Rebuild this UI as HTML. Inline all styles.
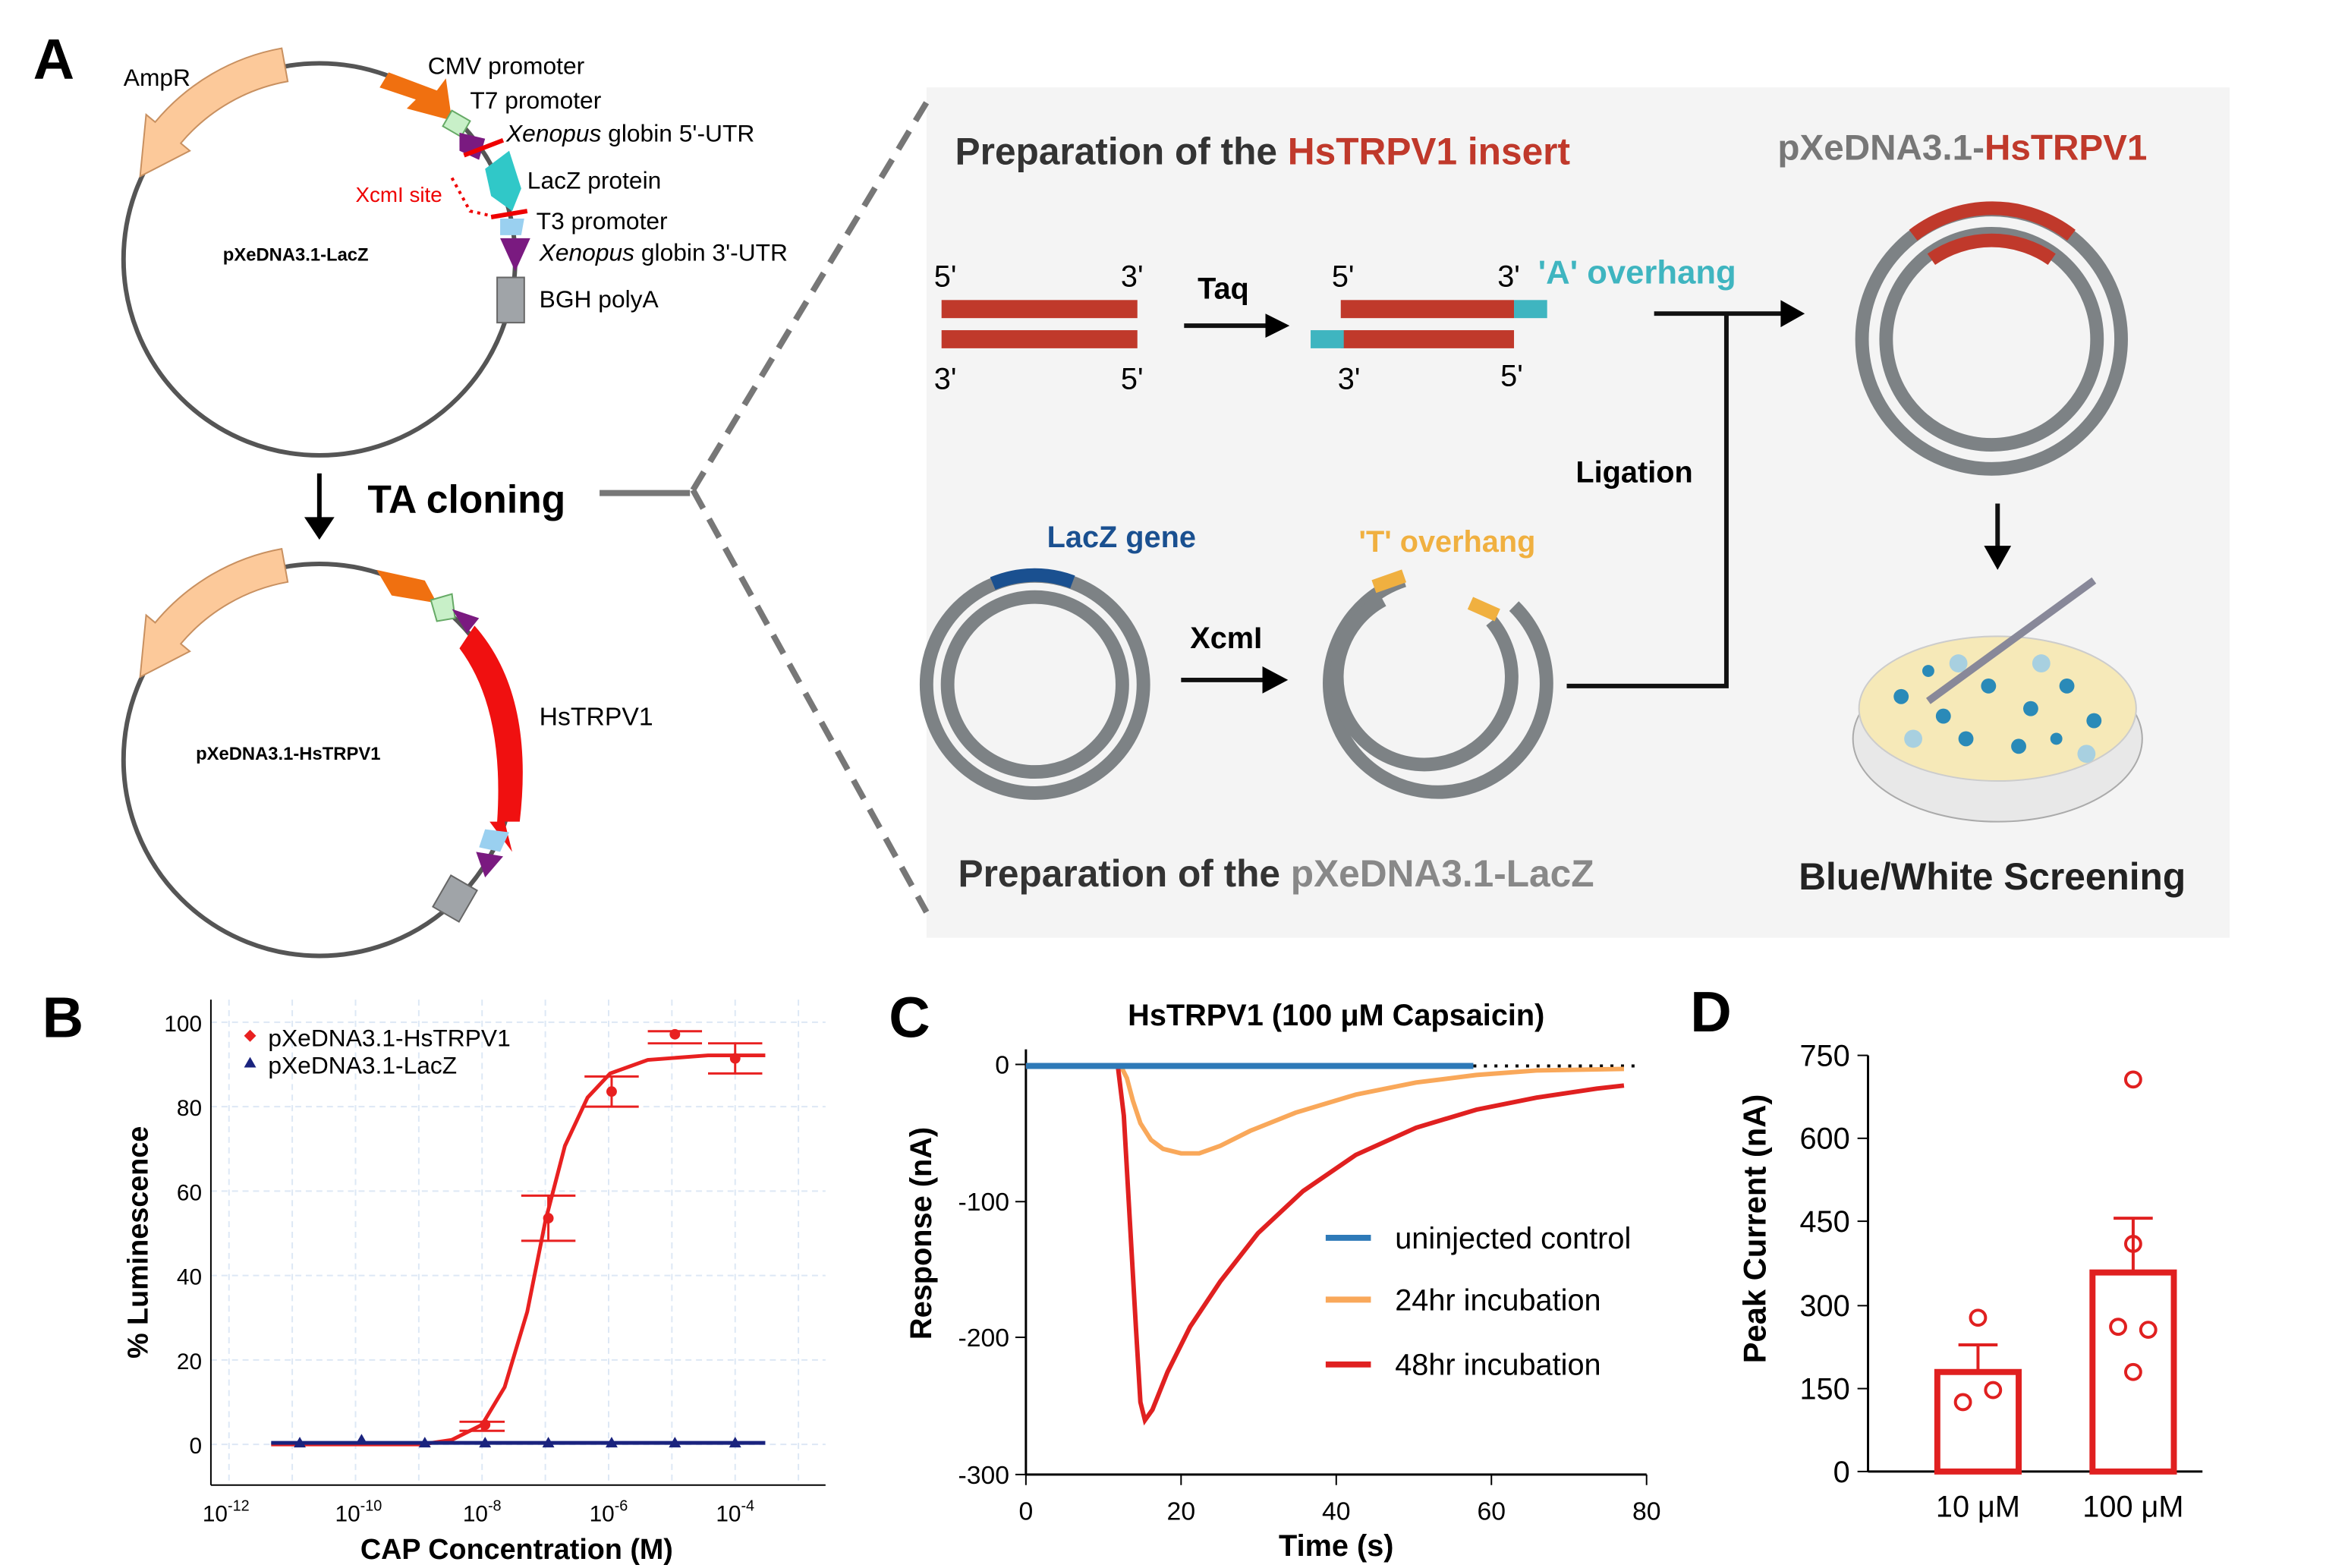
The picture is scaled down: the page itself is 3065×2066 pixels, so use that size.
<!DOCTYPE html>
<html><head><meta charset="utf-8"><style>
html,body{margin:0;padding:0;background:#fff}
svg{display:block}
text{font-family:"Liberation Sans",Arial,sans-serif}
</style></head><body>
<svg width="3065" height="2066" viewBox="0 0 1544 1040" preserveAspectRatio="none" xmlns="http://www.w3.org/2000/svg">
<!-- Panel A -->
<text x="22" y="52" font-size="38" font-weight="bold">A</text>
<circle cx="212" cy="172" r="130" fill="none" stroke="#555" stroke-width="3"/>
<path d="M187,32 A142,142 0 0 0 103,81 L97,76 L93,117 L126,100 L120,95 A120,120 0 0 1 191,54 Z" fill="#fcc99a" stroke="#c89060"/>
<path d="M258,48 L290,60 L296,52 L300,80 L270,72 L276,66 L252,58 Z" fill="#f07010"/>
<rect x="296" y="76" width="14" height="12" fill="#c8f0c8" stroke="#6a6" transform="rotate(30 303 82)"/>
<path d="M305,88 L322,92 L318,106 L305,100 Z" fill="#7a1a80"/>
<line x1="308" y1="103" x2="334" y2="93" stroke="#e00" stroke-width="3"/>
<path d="M322,112 L338,100 L346,125 L340,140 L326,130 Z" fill="#30c8c8"/>
<line x1="326" y1="144" x2="350" y2="140" stroke="#e00" stroke-width="3"/>
<path d="M332,145 L348,145 L346,156 L332,156 Z" fill="#9ad0f0"/>
<path d="M332,158 L352,158 L342,180 Z" fill="#7a1a80"/>
<rect x="330" y="184" width="18" height="30" fill="#a0a4a8" stroke="#666"/>
<path d="M300,118 L312,140 L330,144" fill="none" stroke="#e00" stroke-width="2" stroke-dasharray="2,3"/>
<text x="82" y="57" font-size="16">AmpR</text>
<text x="284" y="49" font-size="16">CMV promoter</text>
<text x="312" y="72" font-size="16">T7 promoter</text>
<text x="336" y="94" font-size="16"><tspan font-style="italic">Xenopus</tspan> globin 5'-UTR</text>
<text x="236" y="134" font-size="14" fill="#e00">XcmI site</text>
<text x="350" y="125" font-size="16">LacZ protein</text>
<text x="356" y="152" font-size="16">T3 promoter</text>
<text x="358" y="173" font-size="16"><tspan font-style="italic">Xenopus</tspan> globin 3'-UTR</text>
<text x="358" y="204" font-size="16">BGH polyA</text>
<text x="148" y="173" font-size="12" font-weight="bold">pXeDNA3.1-LacZ</text>
<line x1="212" y1="314" x2="212" y2="345" stroke="#000" stroke-width="3"/>
<path d="M202,343 L222,343 L212,358 Z"/>
<text x="244" y="340" font-size="26" font-weight="bold">TA cloning</text>
<line x1="398" y1="327" x2="458" y2="327" stroke="#777" stroke-width="4"/>
<circle cx="212" cy="504" r="130" fill="none" stroke="#555" stroke-width="3"/>
<path d="M187,364 A142,142 0 0 0 103,413 L97,408 L93,449 L126,432 L120,427 A120,120 0 0 1 191,386 Z" fill="#fcc99a" stroke="#c89060"/>
<path d="M250,378 L282,385 L290,400 L260,395 Z" fill="#f07010"/>
<path d="M286,398 L300,394 L302,410 L290,412 Z" fill="#c8f0c8" stroke="#6a6"/>
<path d="M300,404 L318,410 L310,420 Z" fill="#7a1a80"/>
<path d="M315,415 Q355,460 345,545 L335,545 L340,565 L325,545 L330,545 Q335,470 305,430 Z" fill="#f01010"/>
<path d="M322,550 L338,552 L332,565 L318,562 Z" fill="#9ad0f0"/>
<path d="M316,565 L334,568 L322,582 Z" fill="#7a1a80"/>
<rect x="292" y="584" width="20" height="24" fill="#a0a4a8" stroke="#666" transform="rotate(30 302 596)"/>
<text x="358" y="481" font-size="17">HsTRPV1</text>
<text x="130" y="504" font-size="12" font-weight="bold">pXeDNA3.1-HsTRPV1</text>
<!-- gray panel -->
<rect x="615" y="58" width="865" height="564" fill="#f4f4f4"/>
<line x1="460" y1="325" x2="615" y2="68" stroke="#777" stroke-width="4" stroke-dasharray="14,8"/>
<line x1="460" y1="325" x2="615" y2="605" stroke="#777" stroke-width="4" stroke-dasharray="14,8"/>
<text x="634" y="109" font-size="25" font-weight="bold" fill="#333">Preparation of the <tspan fill="#c0392b">HsTRPV1 insert</tspan></text>
<text x="1180" y="106" font-size="24" font-weight="bold" fill="#777">pXeDNA3.1-<tspan fill="#c0392b">HsTRPV1</tspan></text>
<rect x="625" y="199" width="130" height="12" fill="#c0392b"/>
<rect x="625" y="219" width="130" height="12" fill="#c0392b"/>
<text x="620" y="190" font-size="20">5'</text><text x="744" y="190" font-size="20">3'</text>
<text x="620" y="258" font-size="20">3'</text><text x="744" y="258" font-size="20">5'</text>
<text x="795" y="198" font-size="20" font-weight="bold">Taq</text>
<line x1="786" y1="216" x2="842" y2="216" stroke="#111" stroke-width="3"/><path d="M840,208 L856,216 L840,224 Z"/>
<rect x="890" y="199" width="115" height="12" fill="#c0392b"/><rect x="1005" y="199" width="22" height="12" fill="#3fb5c0"/>
<rect x="890" y="219" width="115" height="12" fill="#c0392b"/><rect x="870" y="219" width="22" height="12" fill="#3fb5c0"/>
<text x="884" y="190" font-size="20">5'</text><text x="994" y="190" font-size="20">3'</text>
<text x="1021" y="188" font-size="22" font-weight="bold" fill="#3fb5c0">'A' overhang</text>
<text x="888" y="258" font-size="20">3'</text><text x="996" y="256" font-size="20">5'</text>
<line x1="1098" y1="208" x2="1185" y2="208" stroke="#111" stroke-width="3"/><path d="M1182,199 L1198,208 L1182,217 Z"/>
<polyline points="1040,455 1146,455 1146,208" fill="none" stroke="#111" stroke-width="3"/>
<text x="1046" y="320" font-size="20" font-weight="bold">Ligation</text>
<circle cx="1322" cy="225" r="86" fill="none" stroke="#7d8285" stroke-width="9"/>
<circle cx="1322" cy="225" r="70" fill="none" stroke="#7d8285" stroke-width="9"/>
<path d="M1270,156 A86,86 0 0 1 1375,156" fill="none" stroke="#c0392b" stroke-width="9"/>
<path d="M1282,172 A70,70 0 0 1 1362,172" fill="none" stroke="#c0392b" stroke-width="9"/>
<line x1="1326" y1="334" x2="1326" y2="365" stroke="#111" stroke-width="3"/><path d="M1317,362 L1335,362 L1326,378 Z"/>
<ellipse cx="1326" cy="490" rx="96" ry="55" fill="#e8e8e8" stroke="#aaa"/>
<ellipse cx="1326" cy="470" rx="92" ry="48" fill="#f6e9b8" stroke="#ccc"/>
<g fill="#2a8ab8"><circle cx="1262" cy="462" r="5"/><circle cx="1290" cy="475" r="5"/><circle cx="1320" cy="455" r="5"/><circle cx="1348" cy="470" r="5"/><circle cx="1372" cy="455" r="5"/><circle cx="1390" cy="478" r="5"/><circle cx="1305" cy="490" r="5"/><circle cx="1340" cy="495" r="5"/><circle cx="1280" cy="445" r="4"/><circle cx="1365" cy="490" r="4"/></g>
<g fill="#a8d0e0"><circle cx="1300" cy="440" r="6"/><circle cx="1355" cy="440" r="6"/><circle cx="1385" cy="500" r="6"/><circle cx="1270" cy="490" r="6"/></g>
<line x1="1280" y1="465" x2="1390" y2="385" stroke="#889" stroke-width="5"/>
<text x="1194" y="590" font-size="25" font-weight="bold" fill="#222">Blue/White Screening</text>
<text x="695" y="363" font-size="20" font-weight="bold" fill="#1a5090">LacZ gene</text>
<circle cx="687" cy="454" r="72" fill="none" stroke="#7d8285" stroke-width="9"/>
<circle cx="687" cy="454" r="58" fill="none" stroke="#7d8285" stroke-width="9"/>
<path d="M659,387 A72,72 0 0 1 712,386" fill="none" stroke="#1a5090" stroke-width="9"/>
<text x="790" y="430" font-size="20" font-weight="bold">XcmI</text>
<line x1="784" y1="451" x2="840" y2="451" stroke="#111" stroke-width="3"/><path d="M838,442 L855,451 L838,460 Z"/>
<text x="902" y="366" font-size="20" font-weight="bold" fill="#f0b040">'T' overhang</text>
<path d="M932,385 A72,72 0 1 0 1005,402" fill="none" stroke="#7d8285" stroke-width="9"/>
<path d="M918,398 A58,58 0 1 0 990,412" fill="none" stroke="#7d8285" stroke-width="9"/>
<path d="M912,389 L932,382" stroke="#f0b040" stroke-width="9"/>
<path d="M976,400 L994,408" stroke="#f0b040" stroke-width="9"/>
<text x="636" y="588" font-size="25" font-weight="bold" fill="#333">Preparation of the <tspan fill="#888">pXeDNA3.1-LacZ</tspan></text>

<!-- Panel B -->
<text x="28" y="688" font-size="38" font-weight="bold">B</text>
<g stroke="#dde8f5" stroke-dasharray="4,3">
<line x1="152" y1="663" x2="152" y2="985"/><line x1="194" y1="663" x2="194" y2="985"/><line x1="236" y1="663" x2="236" y2="985"/><line x1="278" y1="663" x2="278" y2="985"/><line x1="320" y1="663" x2="320" y2="985"/><line x1="362" y1="663" x2="362" y2="985"/><line x1="404" y1="663" x2="404" y2="985"/><line x1="446" y1="663" x2="446" y2="985"/><line x1="488" y1="663" x2="488" y2="985"/><line x1="530" y1="663" x2="530" y2="985"/>
<line x1="140" y1="678" x2="548" y2="678"/><line x1="140" y1="734" x2="548" y2="734"/><line x1="140" y1="790" x2="548" y2="790"/><line x1="140" y1="846" x2="548" y2="846"/><line x1="140" y1="902" x2="548" y2="902"/><line x1="140" y1="958" x2="548" y2="958"/>
</g>
<line x1="140" y1="663" x2="140" y2="985" stroke="#000"/><line x1="140" y1="985" x2="548" y2="985" stroke="#000"/>
<g font-size="15" text-anchor="end"><text x="134" y="684">100</text><text x="134" y="740">80</text><text x="134" y="796">60</text><text x="134" y="852">40</text><text x="134" y="908">20</text><text x="134" y="964">0</text></g>
<g font-size="15" text-anchor="middle"><text x="150" y="1009">10<tspan font-size="10" dy="-7">-12</tspan></text><text x="238" y="1009">10<tspan font-size="10" dy="-7">-10</tspan></text><text x="320" y="1009">10<tspan font-size="10" dy="-7">-8</tspan></text><text x="404" y="1009">10<tspan font-size="10" dy="-7">-6</tspan></text><text x="488" y="1009">10<tspan font-size="10" dy="-7">-4</tspan></text></g>
<text x="343" y="1034" font-size="19" font-weight="bold" text-anchor="middle">CAP Concentration (M)</text>
<text transform="translate(98,824) rotate(-90)" font-size="19" font-weight="bold" text-anchor="middle">% Luminescence</text>
<path d="M180,958 L280,958 L300,955 L320,945 L335,920 L350,870 L362,810 L375,760 L390,728 L405,712 L430,703 L470,700 L508,700" fill="none" stroke="#e82020" stroke-width="2.5"/>
<line x1="180" y1="957" x2="508" y2="957" stroke="#1a237e" stroke-width="2.5"/>
<g fill="#1a237e"><path d="M199,953 l4,7 h-8z"/><path d="M240,951 l4,7 h-8z"/><path d="M282,953 l4,7 h-8z"/><path d="M322,953 l4,7 h-8z"/><path d="M364,953 l4,7 h-8z"/><path d="M406,953 l4,7 h-8z"/><path d="M448,953 l4,7 h-8z"/><path d="M488,953 l4,7 h-8z"/></g>
<g stroke="#e82020" stroke-width="1.5" fill="none"><path d="M305,943 h30 M305,949 h30 M320,943 v6"/><path d="M346,793 h36 M346,823 h36 M364,793 v30"/><path d="M388,714 h36 M388,734 h36 M406,714 v20"/><path d="M430,684 h36 M430,692 h36"/><path d="M470,692 h36 M470,712 h36 M488,692 v20"/></g>
<g fill="#e82020"><circle cx="322" cy="945" r="3.5"/><circle cx="364" cy="808" r="3.5"/><circle cx="406" cy="724" r="3.5"/><circle cx="448" cy="686" r="3.5"/><circle cx="488" cy="702" r="3.5"/></g>
<path d="M166,683 l4,4 l-4,4 l-4,-4z" fill="#e82020"/><text x="178" y="694" font-size="16">pXeDNA3.1-HsTRPV1</text>
<path d="M166,701 l4,7 h-8z" fill="#1a237e"/><text x="178" y="712" font-size="16">pXeDNA3.1-LacZ</text>

<!-- Panel C -->
<text x="590" y="688" font-size="38" font-weight="bold">C</text>
<text x="887" y="680" font-size="20" font-weight="bold" text-anchor="middle">HsTRPV1 (100 μM Capsaicin)</text>
<line x1="681" y1="696" x2="681" y2="978" stroke="#000" stroke-width="1.5"/><line x1="681" y1="978" x2="1093" y2="978" stroke="#000" stroke-width="1.5"/>
<g stroke="#000"><line x1="674" y1="706" x2="681" y2="706"/><line x1="674" y1="797" x2="681" y2="797"/><line x1="674" y1="887" x2="681" y2="887"/><line x1="674" y1="978" x2="681" y2="978"/>
<line x1="681" y1="978" x2="681" y2="985"/><line x1="784" y1="978" x2="784" y2="985"/><line x1="887" y1="978" x2="887" y2="985"/><line x1="990" y1="978" x2="990" y2="985"/><line x1="1093" y1="978" x2="1093" y2="985"/></g>
<g font-size="17" text-anchor="end"><text x="670" y="712">0</text><text x="670" y="803">-100</text><text x="670" y="893">-200</text><text x="670" y="984">-300</text></g>
<g font-size="17" text-anchor="middle"><text x="681" y="1008">0</text><text x="784" y="1008">20</text><text x="887" y="1008">40</text><text x="990" y="1008">60</text><text x="1093" y="1008">80</text></g>
<text x="887" y="1032" font-size="20" font-weight="bold" text-anchor="middle">Time (s)</text>
<text transform="translate(618,818) rotate(-90)" font-size="20" font-weight="bold" text-anchor="middle">Response (nA)</text>
<line x1="978" y1="707" x2="1088" y2="707" stroke="#000" stroke-width="2" stroke-dasharray="2,5"/>
<path d="M681,707 L744,707 L748,715 L752,730 L757,745 L764,756 L772,762 L784,765 L796,765 L810,760 L830,750 L860,738 L900,726 L940,718 L980,713 L1020,710 L1078,709" fill="none" stroke="#f9a85a" stroke-width="3"/>
<path d="M681,707 L742,707 L746,740 L750,810 L754,880 L757,930 L760,942 L765,935 L775,910 L790,880 L810,850 L835,818 L865,790 L900,766 L940,748 L980,736 L1020,728 L1060,722 L1078,720" fill="none" stroke="#e02020" stroke-width="3"/>
<line x1="681" y1="707" x2="978" y2="707" stroke="#2e7ab8" stroke-width="4"/>
<line x1="880" y1="821" x2="910" y2="821" stroke="#2e7ab8" stroke-width="4"/><text x="926" y="828" font-size="20">uninjected control</text>
<line x1="880" y1="862" x2="910" y2="862" stroke="#f9a85a" stroke-width="4"/><text x="926" y="869" font-size="20">24hr incubation</text>
<line x1="880" y1="905" x2="910" y2="905" stroke="#e02020" stroke-width="4"/><text x="926" y="912" font-size="20">48hr incubation</text>

<!-- Panel D -->
<text x="1122" y="684" font-size="38" font-weight="bold">D</text>
<line x1="1240" y1="700" x2="1240" y2="976" stroke="#000" stroke-width="1.5"/><line x1="1240" y1="976" x2="1462" y2="976" stroke="#000" stroke-width="1.5"/>
<g stroke="#000"><line x1="1233" y1="700" x2="1240" y2="700"/><line x1="1233" y1="755" x2="1240" y2="755"/><line x1="1233" y1="810" x2="1240" y2="810"/><line x1="1233" y1="866" x2="1240" y2="866"/><line x1="1233" y1="921" x2="1240" y2="921"/><line x1="1233" y1="976" x2="1240" y2="976"/></g>
<g font-size="20" text-anchor="end"><text x="1228" y="707">750</text><text x="1228" y="762">600</text><text x="1228" y="817">450</text><text x="1228" y="873">300</text><text x="1228" y="928">150</text><text x="1228" y="983">0</text></g>
<text transform="translate(1172,815) rotate(-90)" font-size="21" font-weight="bold" text-anchor="middle">Peak Current (nA)</text>
<rect x="1286" y="910" width="54" height="66" fill="none" stroke="#e02020" stroke-width="4"/>
<rect x="1389" y="844" width="54" height="132" fill="none" stroke="#e02020" stroke-width="4"/>
<g stroke="#e02020" stroke-width="2" fill="none"><path d="M1300,892 h26 M1313,892 v18"/><path d="M1403,808 h26 M1416,808 v36"/>
<circle cx="1313" cy="874" r="5"/><circle cx="1303" cy="930" r="5"/><circle cx="1323" cy="922" r="5"/>
<circle cx="1416" cy="716" r="5"/><circle cx="1416" cy="825" r="5"/><circle cx="1406" cy="880" r="5"/><circle cx="1426" cy="882" r="5"/><circle cx="1416" cy="910" r="5"/></g>
<text x="1313" y="1006" font-size="20" text-anchor="middle">10 μM</text>
<text x="1416" y="1006" font-size="20" text-anchor="middle">100 μM</text>
</svg>
</body></html>
